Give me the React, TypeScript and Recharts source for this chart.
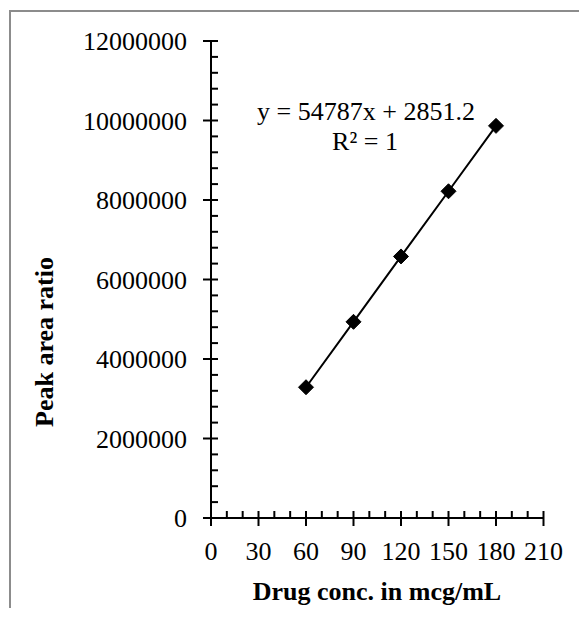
import React from 'react';
import { ComposedChart, Scatter, XAxis, YAxis, Customized } from 'recharts';

// Data
const concentrations = [60, 90, 120, 150, 180];
const peakAreaRatios = [3290000, 4935000, 6580000, 8220000, 9865000];

// Tick labels
const xMajorTicks = [0, 30, 60, 90, 120, 150, 180, 210];
const yMajorTicks = [0, 2000000, 4000000, 6000000, 8000000, 10000000, 12000000];
const xMinorPerMajor = 3;
const yMinorPerMajor = 5;

const equationText = 'y = 54787x + 2851.2';
const rSquaredText = 'R² = 1';
const xTitle = 'Drug conc. in mcg/mL';
const yTitle = 'Peak area ratio';

const data = concentrations.map((x, i) => ({ x, y: peakAreaRatios[i] }));

const subdivide = (majors: number[], n: number) => {
  const out: number[] = [];
  for (let i = 0; i < majors.length; i++) {
    out.push(majors[i]);
    if (i < majors.length - 1) {
      const step = (majors[i + 1] - majors[i]) / n;
      for (let k = 1; k < n; k++) out.push(majors[i] + step * k);
    }
  }
  return out;
};
const xTicks = subdivide(xMajorTicks, xMinorPerMajor);
const yTicks = subdivide(yMajorTicks, yMinorPerMajor);

const FONT = '"Liberation Serif", "Times New Roman", serif';
const FS = 26;

const XTick = (props: any) => {
  const { x, y, payload } = props;
  const v = payload.value;
  const major = xMajorTicks.some((m) => Math.abs(m - v) < 1e-6);
  if (major) {
    return (
      <g>
        <line x1={x} x2={x} y1={y - 7} y2={y + 8} stroke="#000" strokeWidth={2} />
        <text x={x} y={y + 42} textAnchor="middle" fontFamily={FONT} fontSize={FS} fill="#000">
          {String(v)}
        </text>
      </g>
    );
  }
  return <line x1={x} x2={x} y1={y - 7} y2={y} stroke="#000" strokeWidth={2} />;
};

const YTick = (props: any) => {
  const { x, y, payload } = props;
  const v = payload.value;
  const major = yMajorTicks.some((m) => Math.abs(m - v) < 1e-3);
  if (major) {
    return (
      <g>
        <line x1={x - 8} x2={x + 7} y1={y} y2={y} stroke="#000" strokeWidth={2} />
        <text x={x - 24} y={y + 9} textAnchor="end" fontFamily={FONT} fontSize={FS} fill="#000">
          {String(v)}
        </text>
      </g>
    );
  }
  return <line x1={x} x2={x + 7} y1={y} y2={y} stroke="#000" strokeWidth={2} />;
};

const Diamond = (props: any) => {
  const { cx, cy } = props;
  const r = 7.5;
  return (
    <polygon
      points={`${cx},${cy - r} ${cx + r},${cy} ${cx},${cy + r} ${cx - r},${cy}`}
      fill="#000"
      stroke="#000"
    />
  );
};

const Annotations = () => (
  <g fontFamily={FONT} fill="#000">
    <text x={358} y={112} textAnchor="middle" fontSize={FS}>{equationText}</text>
    <text x={357} y={142} textAnchor="middle" fontSize={FS}>{rSquaredText}</text>
    <text x={369} y={592} textAnchor="middle" fontSize={FS} fontWeight="bold">{xTitle}</text>
    <text
      x={0}
      y={0}
      transform={`translate(45, 334) rotate(-90)`}
      textAnchor="middle"
      fontSize={FS}
      fontWeight="bold"
    >
      {yTitle}
    </text>
  </g>
);

export default function App() {
  return (
    <div style={{ position: 'relative', width: 571, height: 600 }}>
      <div
        style={{
          position: 'absolute',
          left: 1,
          top: 2,
          width: 578,
          height: 620,
          boxSizing: 'border-box',
          borderLeft: '2px solid #8c8c8c',
          borderTop: '2px solid #8c8c8c',
        }}
      />
      <div style={{ position: 'absolute', left: 0, top: 0 }}>
        <ComposedChart
          width={571}
          height={600}
          data={data}
          margin={{ top: 33, right: 35.5, bottom: 50, left: 103 }}
        >
          <XAxis
            type="number"
            dataKey="x"
            domain={[0, 210]}
            ticks={xTicks}
            interval={0}
            tickSize={0}
            tickMargin={0}
            tickLine={false}
            tick={<XTick />}
            axisLine={{ stroke: '#000', strokeWidth: 2 }}
            height={40}
          />
          <YAxis
            type="number"
            dataKey="y"
            domain={[0, 12000000]}
            ticks={yTicks}
            interval={0}
            tickSize={0}
            tickMargin={0}
            tickLine={false}
            tick={<YTick />}
            axisLine={{ stroke: '#000', strokeWidth: 2 }}
            width={100}
          />
          <Scatter
            data={data}
            dataKey="y"
            isAnimationActive={false}
            line={{ stroke: '#000', strokeWidth: 2 }}
            lineType="joint"
            shape={<Diamond />}
          />
          <Customized component={Annotations} />
        </ComposedChart>
      </div>
    </div>
  );
}
